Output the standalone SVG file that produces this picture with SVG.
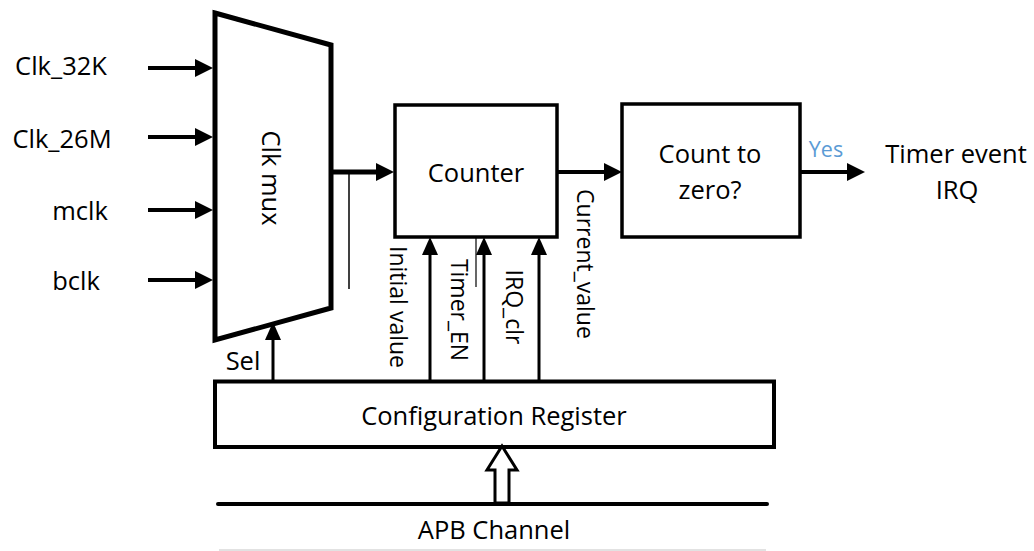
<svg xmlns="http://www.w3.org/2000/svg" width="1034" height="551" viewBox="0 0 1034 551">
<style>
.t{font-family:"Open Sans","Liberation Sans",sans-serif;font-size:25.5px;fill:#000}
.s{font-size:23px}
.c{text-anchor:middle}
.r{text-anchor:middle;dominant-baseline:central}
.box{fill:#fff;stroke:#000}
.w{stroke:#000;fill:none}
</style>
<defs>
<marker id="ah" viewBox="0 0 18 18" refX="10" refY="9" markerWidth="18" markerHeight="18" markerUnits="userSpaceOnUse" orient="auto">
<path d="M0,0 L18,9 L0,18 z" fill="#000"/>
</marker>
<marker id="ahs" viewBox="0 0 18 16" refX="10" refY="8" markerWidth="18" markerHeight="16" markerUnits="userSpaceOnUse" orient="auto">
<path d="M0,0 L18,8 L0,16 z" fill="#000"/>
</marker>
</defs>
<rect width="1034" height="551" fill="#fff"/>

<g id="inputs">
<text class="t c" x="61" y="75">Clk_32K</text>
<text class="t c" x="62" y="148">Clk_26M</text>
<text class="t c" x="80" y="220">mclk</text>
<text class="t c" x="76" y="290">bclk</text>
</g>

<g id="mux">
<polygon class="box" stroke-width="5" stroke-linejoin="miter" points="215,13 331,45 331,308 215,340"/>
<text class="t r" transform="translate(272,178) rotate(90)">Clk mux</text>
</g>

<g id="counter">
<rect class="box" stroke-width="3.5" x="395" y="105" width="162" height="132"/>
<text class="t c" x="476" y="182">Counter</text>
</g>

<g id="count-zero">
<rect class="box" stroke-width="3.5" x="622" y="104" width="178" height="133"/>
<text class="t c" x="710" y="163">Count to</text>
<text class="t c" x="710" y="199">zero?</text>
</g>

<g id="irq">
<text class="t c" x="956" y="163">Timer event</text>
<text class="t c" x="957" y="199">IRQ</text>
</g>

<g id="config">
<rect class="box" stroke-width="4" x="215" y="381.5" width="559" height="65.5"/>
<text class="t c" x="494" y="425">Configuration Register</text>
</g>

<g id="apb">
<line x1="218" y1="504" x2="767" y2="504" stroke="#000" stroke-width="4" stroke-linecap="round"/>
<line x1="219" y1="550" x2="766" y2="550" stroke="#d9d9d9" stroke-width="1.5"/>
<text class="t c" x="494" y="539">APB Channel</text>
</g>

<g id="connectors">
<line class="w" stroke-width="4" x1="148" y1="68" x2="205" y2="68" marker-end="url(#ah)"/>
<line class="w" stroke-width="4" x1="148" y1="137" x2="205" y2="137" marker-end="url(#ah)"/>
<line class="w" stroke-width="4" x1="148" y1="210" x2="205" y2="210" marker-end="url(#ah)"/>
<line class="w" stroke-width="4" x1="148" y1="280" x2="205" y2="280" marker-end="url(#ah)"/>
<line class="w" stroke-width="5" x1="331" y1="172" x2="386" y2="172" marker-end="url(#ah)"/>
<line class="w" stroke-width="1.5" x1="349" y1="172" x2="349" y2="289"/>
<line class="w" stroke-width="4" x1="557" y1="172" x2="614" y2="172" marker-end="url(#ah)"/>
<line class="w" stroke-width="4" x1="800" y1="172" x2="857" y2="172" marker-end="url(#ah)"/>
<text x="826" y="157" text-anchor="middle" font-family="Open Sans, Liberation Sans, sans-serif" font-size="21.5" fill="#5B9BD5">Yes</text>
<line class="w" stroke-width="3" x1="273" y1="381" x2="273" y2="330" marker-end="url(#ahs)"/>
<text class="t c" x="243" y="370">Sel</text>
<line class="w" stroke-width="3" x1="430" y1="381" x2="430" y2="245" marker-end="url(#ahs)"/>
<line class="w" stroke-width="3" x1="484" y1="381" x2="484" y2="245" marker-end="url(#ahs)"/>
<line class="w" stroke-width="3" x1="539" y1="381" x2="539" y2="245" marker-end="url(#ahs)"/>
<line class="w" stroke-width="1.2" x1="476" y1="237" x2="476" y2="287"/>
<text class="t s r" transform="translate(399,307) rotate(90)">Initial value</text>
<text class="t s r" transform="translate(460,310) rotate(90)">Timer_EN</text>
<text class="t s r" transform="translate(515,307) rotate(90)">IRQ_clr</text>
<text class="t s r" transform="translate(586,264) rotate(90)">Current_value</text>
<polygon fill="#fff" stroke="#000" stroke-width="3" stroke-linejoin="miter" points="502,446 517,470 509,470 509,503 495,503 495,470 487,470"/>
</g>
</svg>
